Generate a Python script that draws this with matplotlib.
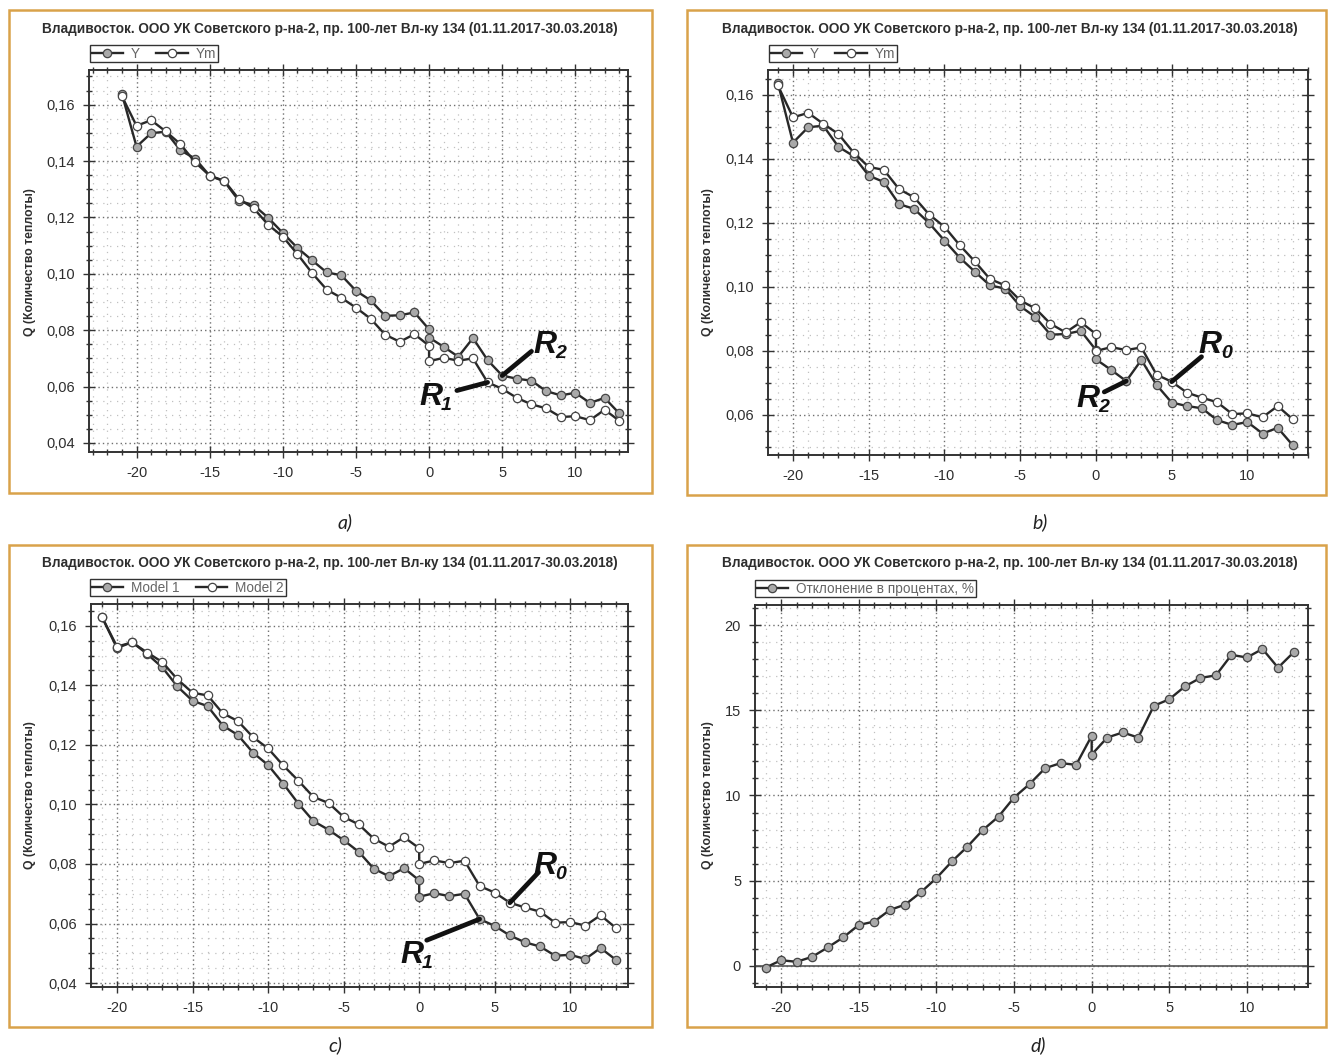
import matplotlib
matplotlib.use('Agg')
import matplotlib.pyplot as plt
from matplotlib.patches import Rectangle
from matplotlib.ticker import MultipleLocator, FuncFormatter

plt.rcParams['font.family'] = ['Liberation Sans', 'DejaVu Sans']
plt.rcParams['axes.unicode_minus'] = False

# ---------------- data ----------------
temperature = [-21, -20, -19, -18, -17, -16, -15, -14, -13, -12, -11, -10, -9, -8, -7,
               -6, -5, -4, -3, -2, -1, 0, 0, 1, 2, 3, 4, 5, 6, 7, 8, 9, 10, 11, 12, 13]

q_actual = [0.1638, 0.1451, 0.1499, 0.1504, 0.1438, 0.1409, 0.1348, 0.1328, 0.1259, 0.1244,
            0.1199, 0.1145, 0.1092, 0.1048, 0.1005, 0.0995, 0.0940, 0.0906, 0.0851, 0.0853,
            0.0863, 0.0803, 0.0774, 0.0741, 0.0706, 0.0772, 0.0694, 0.0639, 0.0628, 0.0621,
            0.0584, 0.0569, 0.0578, 0.0542, 0.0560, 0.0505]

q_model1 = [0.1630, 0.1525, 0.1545, 0.1505, 0.1460, 0.1396, 0.1348, 0.1330, 0.1265, 0.1233,
            0.1174, 0.1132, 0.1070, 0.1003, 0.0944, 0.0915, 0.0880, 0.0841, 0.0784, 0.0759,
            0.0786, 0.0745, 0.0690, 0.0702, 0.0692, 0.0700, 0.0615, 0.0592, 0.0560, 0.0537,
            0.0523, 0.0492, 0.0495, 0.0481, 0.0518, 0.0479]

q_model2 = [0.1630, 0.1530, 0.1544, 0.1510, 0.1478, 0.1420, 0.1375, 0.1366, 0.1306, 0.1280,
            0.1226, 0.1188, 0.1131, 0.1080, 0.1025, 0.1005, 0.0958, 0.0933, 0.0885, 0.0858,
            0.0890, 0.0853, 0.0800, 0.0812, 0.0803, 0.0811, 0.0726, 0.0704, 0.0670, 0.0654,
            0.0640, 0.0603, 0.0605, 0.0593, 0.0628, 0.0586]

deviation_pct = [-0.1, 0.33, 0.24, 0.53, 1.08, 1.67, 2.4, 2.6, 3.28, 3.6,
                 4.32, 5.15, 6.13, 7.0, 7.98, 8.76, 9.88, 10.67, 11.6, 11.9,
                 11.8, 13.5, 12.4, 13.4, 13.7, 13.4, 15.26, 15.65, 16.4, 16.9,
                 17.05, 18.25, 18.1, 18.6, 17.5, 18.4]

title_text = "Владивосток. ООО УК Советского р-на-2, пр. 100-лет Вл-ку 134 (01.11.2017-30.03.2018)"
ylabel_text = "Q (Количество теплоты)"
x_ticks = [-20, -15, -10, -5, 0, 5, 10]
q_ticks_ac = [0.04, 0.06, 0.08, 0.10, 0.12, 0.14, 0.16]
q_ticks_b = [0.06, 0.08, 0.10, 0.12, 0.14, 0.16]
pct_ticks = [0, 5, 10, 15, 20]
legend_a = ["Y", "Ym"]
legend_b = ["Y", "Ym"]
legend_c = ["Model 1", "Model 2"]
legend_d = ["Отклонение в процентах, %"]
captions = ["a)", "b)", "c)", "d)"]

# ---------------- styling ----------------
W, H = 1328, 1057
fig = plt.figure(figsize=(W / 100, H / 100), dpi=100)
fig.patch.set_facecolor('white')

def fx(px):
    return px / W

def fy(py):
    return 1 - py / H

LINE_C = '#282828'
EDGE_C = '#454545'
GREY_FACE = '#a9a9a9'
WHITE_FACE = '#ffffff'
BORDER_C = '#d9a24a'
TXT_C = '#2e2e2e'

def comma_fmt(decimals):
    return FuncFormatter(lambda v, p: (f"{v:.{decimals}f}").replace('.', ','))

def make_axes(rect_px, xlim, ylim, yticks, yminor, fmt):
    l, t, r, b = rect_px
    ax = fig.add_axes([fx(l), fy(b), (r - l) / W, (b - t) / H])
    ax.set_xlim(*xlim)
    ax.set_ylim(*ylim)
    ax.set_xticks(x_ticks)
    ax.xaxis.set_minor_locator(MultipleLocator(1))
    ax.set_yticks(yticks)
    ax.yaxis.set_minor_locator(MultipleLocator(yminor))
    ax.yaxis.set_major_formatter(fmt)
    ax.grid(which='major', linestyle=(0, (1, 2.2)), color='#6f6f6f', lw=1.0)
    ax.grid(which='minor', linestyle=(0, (1, 4.5)), color='#c0c0c0', lw=0.9)
    ax.set_axisbelow(True)
    ax.tick_params(which='both', direction='inout', top=True, right=True,
                   labeltop=False, labelright=False, colors='#333333', width=1.0)
    ax.tick_params(which='major', length=8, labelsize=10.5, pad=6, labelcolor=TXT_C)
    ax.tick_params(which='minor', length=5)
    for s in ax.spines.values():
        s.set_color('#333333')
        s.set_linewidth(1.4)
    return ax

def plot_series(ax, y, face):
    return ax.plot(temperature, y, '-', color=LINE_C, lw=1.7, marker='o', ms=6.0,
                   mfc=face, mec=EDGE_C, mew=0.9, zorder=3)[0]

def add_legend(ax, handles, labels, left_px, top_px, ncol):
    leg = ax.legend(handles, labels, loc='upper left',
                    bbox_to_anchor=(fx(left_px), fy(top_px)), bbox_transform=fig.transFigure,
                    ncol=ncol, frameon=True, fancybox=False, framealpha=1,
                    edgecolor='#333333', fontsize=9.8, borderpad=0.12, borderaxespad=0,
                    handlelength=2.3, handletextpad=0.6, columnspacing=1.2,
                    labelcolor='#666666')
    leg.get_frame().set_linewidth(1.0)

def add_R(ax, anchor_xy, line_end_xy, text_xy, sub):
    ax.annotate('', xy=anchor_xy, xytext=line_end_xy,
                arrowprops=dict(arrowstyle='-', lw=3.4, color='#111111',
                                shrinkA=0, shrinkB=0), zorder=5)
    ax.text(text_xy[0], text_xy[1], 'R', fontsize=23, fontweight='bold', style='italic',
            color='#111111', ha='center', va='center', zorder=6)
    ax.annotate(sub, xy=text_xy, xytext=(7.5, -6), textcoords='offset points',
                fontsize=14, fontweight='bold', style='italic', color='#111111',
                ha='left', va='center', zorder=6)

def panel_frame(box_px, title_cx, title_y, ylab_x, ylab_cy, cap, cap_xy):
    x0, y0, x1, y1 = box_px
    fig.patches.append(Rectangle((fx(x0), fy(y1)), (x1 - x0) / W, (y1 - y0) / H,
                                 transform=fig.transFigure, fill=False,
                                 edgecolor=BORDER_C, lw=1.8))
    fig.text(fx(title_cx), fy(title_y), title_text, ha='center', va='center',
             fontsize=9.8, fontweight='bold', color=TXT_C)
    fig.text(fx(ylab_x), fy(ylab_cy), ylabel_text, ha='center', va='center',
             rotation=90, fontsize=8.8, fontweight='bold', color=TXT_C)
    fig.text(fx(cap_xy[0]), fy(cap_xy[1]), cap, ha='center', va='center',
             fontsize=14, style='italic', color='#222222', family='Lato')

# ---------------- panel a ----------------
panel_frame((9, 10, 652, 493), 330, 29, 30, 262, captions[0], (345, 522))
ax_a = make_axes((89, 70, 628, 452), (-23.25, 13.6), (0.0368, 0.1723),
                 q_ticks_ac, 0.005, comma_fmt(2))
h1 = plot_series(ax_a, q_actual, GREY_FACE)
h2 = plot_series(ax_a, q_model1, WHITE_FACE)
add_legend(ax_a, [h1, h2], legend_a, 90, 45, 2)
i5 = temperature.index(5)
i4 = temperature.index(4)
add_R(ax_a, (temperature[i5], q_actual[i5]), (7.0, 0.0725), (7.9, 0.0747), '2')
add_R(ax_a, (temperature[i4], q_model1[i4]), (1.9, 0.0586), (0.1, 0.0564), '1')

# ---------------- panel b ----------------
panel_frame((687, 10, 1326, 495), 1010, 29, 708, 262, captions[1], (1040, 522))
ax_b = make_axes((768, 70, 1308, 455), (-21.65, 14.0), (0.0475, 0.1678),
                 q_ticks_b, 0.005, comma_fmt(2))
h1 = plot_series(ax_b, q_actual, GREY_FACE)
h2 = plot_series(ax_b, q_model2, WHITE_FACE)
add_legend(ax_b, [h1, h2], legend_b, 769, 45, 2)
i2 = temperature.index(2)
add_R(ax_b, (temperature[i5], q_model2[i5]), (6.97, 0.0782), (7.55, 0.0819), '0')
add_R(ax_b, (temperature[i2], q_actual[i2]), (0.55, 0.0672), (-0.5, 0.0650), '2')

# ---------------- panel c ----------------
panel_frame((9, 545, 652, 1027), 330, 563, 30, 795, captions[2], (335, 1045))
ax_c = make_axes((91, 604, 628, 987), (-21.72, 13.82), (0.0387, 0.1673),
                 q_ticks_ac, 0.005, comma_fmt(2))
h1 = plot_series(ax_c, q_model1, GREY_FACE)
h2 = plot_series(ax_c, q_model2, WHITE_FACE)
add_legend(ax_c, [h1, h2], legend_c, 90, 579, 2)
i6 = temperature.index(6)
add_R(ax_c, (temperature[i6], q_model2[i6]), (7.9, 0.0772), (8.3, 0.0792), '0')
add_R(ax_c, (temperature[i4], q_model1[i4]), (0.5, 0.0544), (-0.5, 0.0494), '1')

# ---------------- panel d ----------------
panel_frame((687, 545, 1326, 1027), 1010, 563, 708, 795, captions[3], (1038, 1045))
ax_d = make_axes((755, 605, 1308, 987), (-21.68, 13.93), (-1.24, 21.18),
                 pct_ticks, 1, FuncFormatter(lambda v, p: f"{v:.0f}"))
ax_d.axhline(0, color='#555555', lw=1.2, zorder=2)
h1 = plot_series(ax_d, deviation_pct, GREY_FACE)
add_legend(ax_d, [h1], legend_d, 755, 580, 1)

fig.savefig('out.png', dpi=100, facecolor='white')
